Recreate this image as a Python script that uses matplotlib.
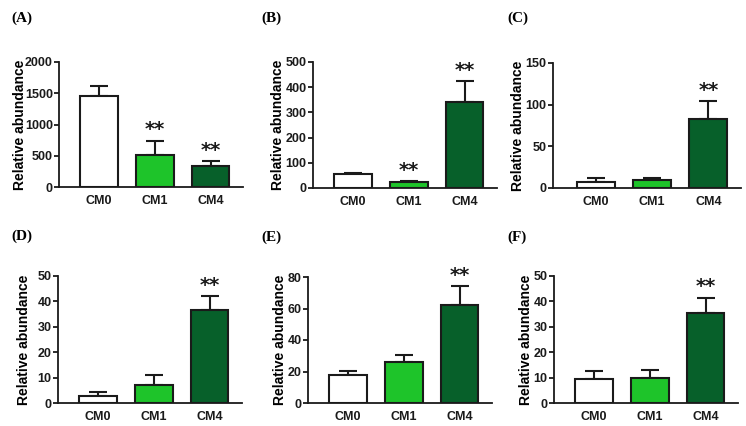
import matplotlib
matplotlib.use("Agg")
import matplotlib.pyplot as plt

# groups and colours
groups = ["CM0", "CM1", "CM4"]
bar_colors = ["#ffffff", "#1ec42a", "#07602a"]

# mean values per panel
vals_a = [1460, 510, 330]
vals_b = [55, 22, 340]
vals_c = [7, 9, 83]
vals_d = [2.8, 7, 36.5]
vals_e = [17.5, 26, 62]
vals_f = [9.5, 10, 35.5]

# upper error (SD) per panel
err_a = [150, 230, 85]
err_b = [5, 6, 85]
err_c = [5, 3, 21]
err_d = [1.4, 4, 5.5]
err_e = [3, 4.5, 12]
err_f = [3, 3, 6]

# significance marks
sig_a = ["", "**", "**"]
sig_b = ["", "**", "**"]
sig_c = ["", "", "**"]
sig_d = ["", "", "**"]
sig_e = ["", "", "**"]
sig_f = ["", "", "**"]

ymax = [2000, 500, 150, 50, 80, 50]
ystep = [500, 100, 50, 10, 20, 10]
panel_names = ["(A)", "(B)", "(C)", "(D)", "(E)", "(F)"]

W, H = 746, 426
fig = plt.figure(figsize=(W / 100, H / 100), dpi=100)

# axes boxes in pixels: left, top (at ymax), bottom (at 0), width
boxes = [(59, 62, 187, 184), (313, 62, 188, 184), (553, 63, 188, 188),
         (58, 276, 403, 184), (308, 277, 403, 184), (554, 276, 403, 184)]
label_pos = [(11, 18), (261, 18), (507, 18), (11, 236), (261, 237), (507, 237)]
ylab_pad = [-1.5, 0.5, 0.5, 4.5, 0.5, 0.5]

panels = [
    (vals_a, err_a, sig_a),
    (vals_b, err_b, sig_b),
    (vals_c, err_c, sig_c),
    (vals_d, err_d, sig_d),
    (vals_e, err_e, sig_e),
    (vals_f, err_f, sig_f),
]

sans = "Liberation Sans"
for i, (vals, errs, sigs) in enumerate(panels):
    left, top, bottom, ax_w = boxes[i]
    ax = fig.add_axes([left / W, 1 - bottom / H, ax_w / W, (bottom - top) / H])
    x = range(len(groups))
    ax.bar(x, vals, width=0.67, color=bar_colors, edgecolor="#1a1a1a",
           linewidth=1.5, zorder=2)
    ax.errorbar(x, vals, yerr=[[0, 0, 0], errs], fmt="none", ecolor="#1a1a1a",
                elinewidth=1.5, capsize=6.5, capthick=1.5, zorder=1)
    for xi, v, e, s in zip(x, vals, errs, sigs):
        if s:
            ax.annotate(s, (xi, v + e), xytext=(0, 1), textcoords="offset points",
                        ha="center", va="bottom", fontsize=14, fontweight="bold",
                        family="DejaVu Sans", color="#1a1a1a")
    if ax_w > 184:
        ax.set_xlim(-0.76, 2.58)
    else:
        ax.set_xlim(-0.72, 2.58)
    ax.set_ylim(0, ymax[i])
    ax.set_yticks(range(0, ymax[i] + 1, ystep[i]))
    ax.set_xticks(list(x))
    ax.set_xticklabels(groups, fontsize=9, fontweight="bold", family=sans)
    for lab in ax.get_yticklabels():
        lab.set_fontsize(9)
        lab.set_fontweight("bold")
        lab.set_family(sans)
    ax.set_ylabel("Relative abundance", fontsize=10, fontweight="bold",
                  family=sans, labelpad=ylab_pad[i])
    ax.spines["top"].set_visible(False)
    ax.spines["right"].set_visible(False)
    for sp in ("left", "bottom"):
        ax.spines[sp].set_linewidth(1.3)
        ax.spines[sp].set_color("#1a1a1a")
    ax.tick_params(axis="y", length=3.5, width=1.3, pad=1, colors="#1a1a1a")
    ax.tick_params(axis="x", length=0, pad=6, colors="#1a1a1a")
    lx, ly = label_pos[i]
    fig.text(lx / W, 1 - ly / H, panel_names[i], fontsize=11, fontweight="bold",
             family="Liberation Serif", va="center", ha="left")

fig.savefig("out.png", dpi=100)
